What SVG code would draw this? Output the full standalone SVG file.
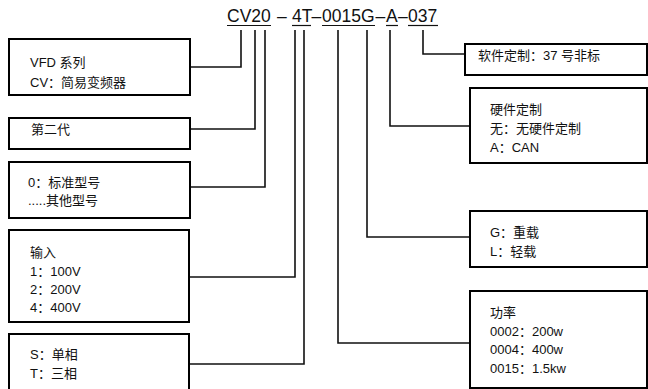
<svg xmlns="http://www.w3.org/2000/svg" width="648" height="389" viewBox="0 0 648 389">
<style>
.box{fill:#fff;stroke:#000;stroke-width:2}
.ln{fill:none;stroke:#111;stroke-width:1.6}
.t{font-family:"Liberation Sans",Arial,"Noto Sans CJK SC",sans-serif;font-size:13px;fill:#111}
.h{font-family:"Liberation Sans",Arial,"Noto Sans CJK SC",sans-serif;font-size:17.5px;fill:#111}
</style>
<rect width="648" height="389" fill="#fff"/>
<g id="header">
<text class="h" x="227" y="22">CV20</text>
<text class="h" x="277" y="22">–</text>
<text class="h" x="292" y="22">4T</text>
<text class="h" x="311.5" y="22">–</text>
<text class="h" x="322" y="22">0015G</text>
<text class="h" x="375.5" y="22">–</text>
<text class="h" x="386" y="22">A</text>
<text class="h" x="398" y="22">–</text>
<text class="h" x="408" y="22">037</text>
<g stroke="#111" stroke-width="1.2">
<line x1="227" y1="25.5" x2="271" y2="25.5"/>
<line x1="292" y1="25.5" x2="311" y2="25.5"/>
<line x1="322" y1="25.5" x2="375" y2="25.5"/>
<line x1="386" y1="25.5" x2="398" y2="25.5"/>
<line x1="408" y1="25.5" x2="438" y2="25.5"/>
</g>
</g>
<g id="connectors">
<polyline class="ln" points="241,30 241,67 190,67"/>
<polyline class="ln" points="255,30 255,129 190,129"/>
<polyline class="ln" points="265,30 265,187 190,187"/>
<polyline class="ln" points="295,30 295,277 189,277"/>
<polyline class="ln" points="304,30 304,364 189,364"/>
<polyline class="ln" points="338,30 338,343 470,343"/>
<polyline class="ln" points="367,30 367,237 470,237"/>
<polyline class="ln" points="390,30 390,126 470,126"/>
<polyline class="ln" points="423,30 423,54 465,54"/>
</g>
<g id="n-vfd">
<rect class="box" x="9" y="39" width="181" height="56"/>
<text class="t" x="30" y="67">VFD 系列</text>
<text class="t" x="30" y="87">CV：简易变频器</text>
</g>
<g id="n-gen">
<rect class="box" x="9" y="118" width="181" height="31"/>
<text class="t" x="31" y="134">第二代</text>
</g>
<g id="n-type">
<rect class="box" x="9" y="162" width="181" height="56"/>
<text class="t" x="28" y="187">0：标准型号</text>
<text class="t" x="28" y="205">.....其他型号</text>
</g>
<g id="n-input">
<rect class="box" x="9" y="230" width="180" height="92"/>
<text class="t" x="30" y="257">输入</text>
<text class="t" x="30" y="276">1：100V</text>
<text class="t" x="30" y="294">2：200V</text>
<text class="t" x="30" y="312">4：400V</text>
</g>
<g id="n-phase">
<rect class="box" x="9" y="334" width="180" height="62"/>
<text class="t" x="30" y="359">S：单相</text>
<text class="t" x="30" y="378">T：三相</text>
</g>
<g id="n-soft">
<rect class="box" x="465" y="44" width="182" height="31"/>
<text class="t" x="478" y="60">软件定制：37 号非标</text>
</g>
<g id="n-hard">
<rect class="box" x="470" y="88" width="177" height="75"/>
<text class="t" x="490" y="114">硬件定制</text>
<text class="t" x="490" y="133">无：无硬件定制</text>
<text class="t" x="490" y="152">A：CAN</text>
</g>
<g id="n-load">
<rect class="box" x="470" y="211" width="177" height="56"/>
<text class="t" x="490" y="237">G：重载</text>
<text class="t" x="490" y="256">L：轻载</text>
</g>
<g id="n-power">
<rect class="box" x="470" y="291" width="177" height="97"/>
<text class="t" x="490" y="317">功率</text>
<text class="t" x="490" y="336">0002：200w</text>
<text class="t" x="490" y="354">0004：400w</text>
<text class="t" x="490" y="373">0015：1.5kw</text>
</g>
</svg>
